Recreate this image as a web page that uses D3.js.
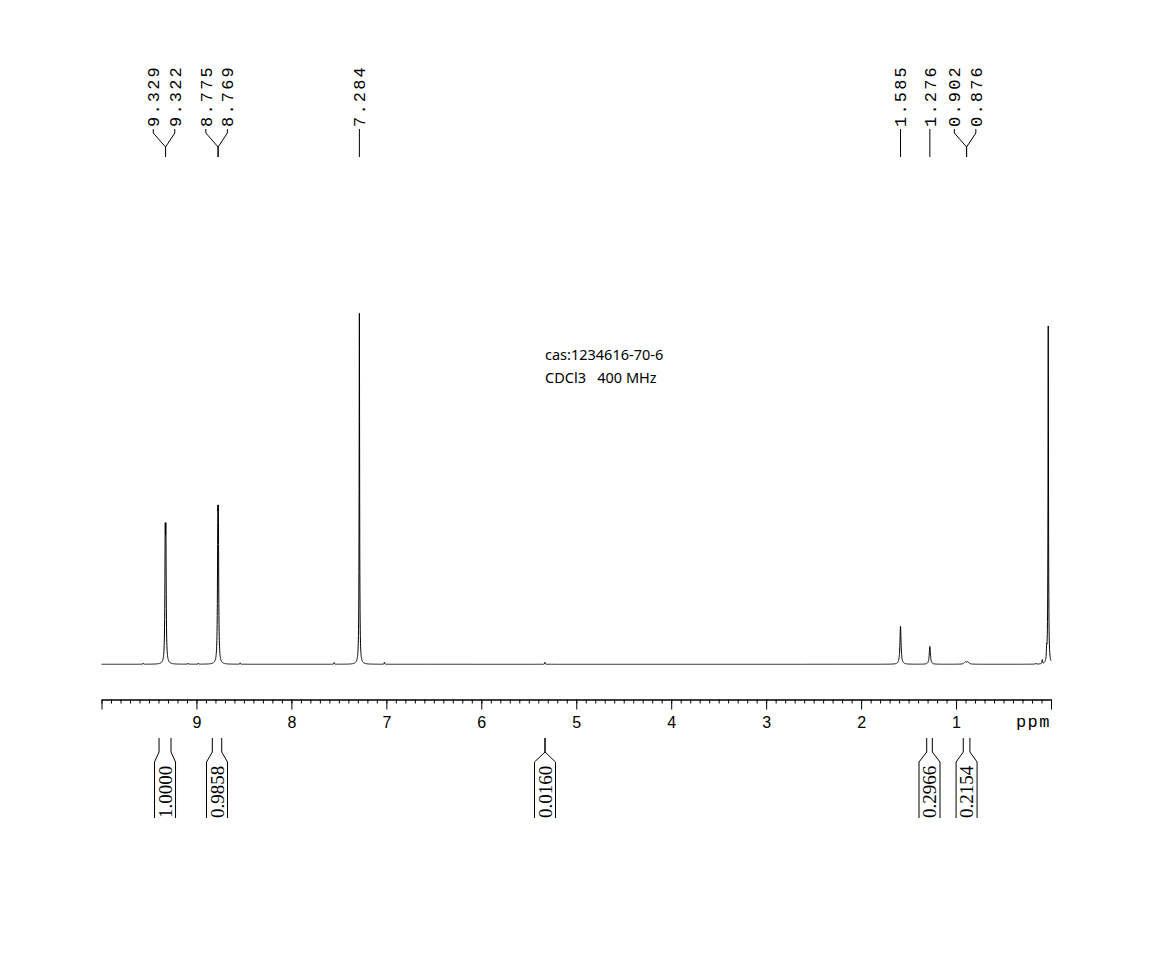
<!DOCTYPE html>
<html><head><meta charset="utf-8">
<script src="https://cdn.jsdelivr.net/npm/d3@7"></script>
<style>body{margin:0;background:#fff}</style>
</head><body>
<svg id="c" width="1164" height="953"></svg>
<script>
// Resolved lines (ppm, height where 7.284 = 100, half-width ppm)
const peakPpm    = [9.560, 9.329, 9.322, 9.090, 8.980, 8.775, 8.769, 8.540, 7.550, 7.284, 7.020, 5.330, 1.585, 1.276, 0.902, 0.876, 0.160, 0.092, 0.046, 0.029];
const peakHeight = [0.3,   32.3,  32.3,  0.3,   0.3,   34.1,  34.1,  0.4,   0.5,   100,   0.6,   0.6,   10.8,  5.1,   0.6,   0.6,   0.3,   1.1,   3.0,   96.3];
const peakWidth  = [0.003, 0.004, 0.004, 0.003, 0.003, 0.004, 0.004, 0.003, 0.003, 0.003, 0.003, 0.003, 0.007, 0.007, 0.014, 0.014, 0.003, 0.003, 0.003, 0.003];

const peakLabels = ["9.329","9.322","8.775","8.769","7.284","1.585","1.276","0.902","0.876"];
const labelGroup = [0,0,1,1,2,3,4,5,5];

const integralFrom   = [9.394, 8.833, 5.329, 1.309, 0.924];
const integralTo     = [9.268, 8.734, 5.329, 1.250, 0.854];
const integralValues = ["1.0000","0.9858","0.0160","0.2966","0.2154"];

const majorTicks = [10,9,8,7,6,5,4,3,2,1,0];
const majorLabels = ["","9","8","7","6","5","4","3","2","1",""];
const infoLines = ["cas:1234616-70-6", "CDCl3   400 MHz"];

const svg = d3.select("#c");
const x = d3.scaleLinear().domain([10, 0]).range([101.5, 1051]);
const y = d3.scaleLinear().domain([0, 100]).range([664.3, 313.3]);

// spectrum trace: sum of the read lines, evaluated at the trace resolution
const grid = d3.range(0, 10.0001, 0.001).concat(peakPpm).sort((a,b)=>b-a);
const trace = grid.map(p => {
  let s = 0;
  for (let i = 0; i < peakPpm.length; i++) {
    const d = (p - peakPpm[i]) / peakWidth[i];
    s += peakHeight[i] / (1 + d*d);
  }
  return [p, s];
});
svg.append("path")
  .datum(trace)
  .attr("fill","none").attr("stroke","#000").attr("stroke-width",1)
  .attr("d", d3.line().x(d=>x(d[0])).y(d=>y(d[1])));

// axis
const axisY = 699.5;
const gMinor = svg.append("g").attr("transform",`translate(0,${axisY})`)
  .call(d3.axisBottom(x).tickValues(d3.range(0,101).map(i=>i/10)).tickSize(4).tickSizeOuter(0).tickFormat(""));
const gMajor = svg.append("g").attr("transform",`translate(0,${axisY})`)
  .call(d3.axisBottom(x).tickValues(majorTicks).tickSize(10).tickSizeOuter(0)
        .tickFormat((d,i)=>majorLabels[i]).tickPadding(7));
svg.selectAll(".domain").attr("stroke","#000");
svg.selectAll(".tick line").attr("stroke","#000");
gMajor.selectAll("text").attr("font-family","'Liberation Sans', Arial, sans-serif")
  .attr("font-size",16).attr("fill","#000");
svg.append("text").attr("x",1051).attr("y",727)
  .attr("text-anchor","end")
  .attr("font-family","'Courier New', 'Liberation Mono', monospace")
  .attr("font-size",17).attr("letter-spacing",1.5).text("ppm");

// peak labels
const groups = d3.group(peakLabels.map((t,i)=>({t, i, g: labelGroup[i]})), d=>d.g);
const spacing = 21.5;
groups.forEach(items => {
  const cppm = d3.mean(items, d=>parseFloat(d.t));
  const cx = x(cppm);
  const n = items.length;
  items.forEach((d,k) => {
    const lx = cx + (k - (n-1)/2) * spacing - (n > 1 ? 1.5 : 0);
    svg.append("text")
      .attr("transform",`translate(${lx},127) rotate(-90)`)
      .attr("dy","0.35em")
      .attr("font-family","'Courier New', 'Liberation Mono', monospace")
      .attr("font-size",17).attr("letter-spacing",2.2)
      .attr("fill","#000").text(d.t);
    svg.append("path")
      .attr("d",`M${lx},129V133L${cx},147V157`)
      .attr("fill","none").attr("stroke","#000").attr("stroke-width",1);
  });
});

// integrals
integralValues.forEach((v,i) => {
  const xa = x(integralFrom[i]), xb = x(integralTo[i]);
  const cx = (xa+xb)/2, hw = 10.5;
  svg.append("path")
    .attr("d",`M${xa},738V752L${cx-hw},762V818M${xb},738V752L${cx+hw},762V818`)
    .attr("fill","none").attr("stroke","#000").attr("stroke-width",1);
  svg.append("text")
    .attr("transform",`translate(${cx},818) rotate(-90)`)
    .attr("dy","0.35em")
    .attr("font-family","'Liberation Serif', 'Times New Roman', serif")
    .attr("font-size",19).attr("fill","#000").text(v);
});

// info text
infoLines.forEach((t,i) => {
  svg.append("text").attr("x",545).attr("y",360 + i*23)
    .attr("font-family","'Noto Sans', 'Open Sans', sans-serif")
    .attr("font-size",14.5).attr("fill","#000")
    .style("white-space","pre").text(t);
});
</script>
</body></html>
